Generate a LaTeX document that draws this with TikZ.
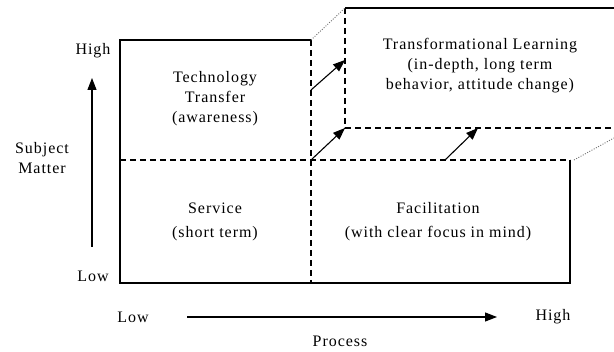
\documentclass[tikz,border=0pt]{standalone}
\usepackage{fontspec}
\setmainfont{Liberation Serif}[LetterSpace=6]
\usetikzlibrary{arrows.meta}

\begin{document}
\begin{tikzpicture}[x=1pt, y=-1pt, font=\fontsize{16}{20}\selectfont,
    solidline/.style={line width=1.3pt},
    dashline/.style={line width=1.1pt, dash pattern=on 6pt off 4pt},
    foldline/.style={line width=0.9pt, dash pattern=on 1pt off 1.5pt, black!55},
    tag/.style={align=center, inner sep=0pt},
    move/.style={-{Triangle[length=12pt, width=9pt]}, line width=1.1pt}]
    \useasboundingbox (0,0) rectangle (614,352);

    % Define the corners
    \coordinate (tl) at (120,40);
    \coordinate (tm) at (311,40);
    \coordinate (ml) at (120,160);
    \coordinate (mm) at (311,160);
    \coordinate (mr) at (570,160);
    \coordinate (bl) at (120,283);
    \coordinate (bm) at (311,283);
    \coordinate (br) at (570,283);
    \coordinate (ut) at (345,8);
    \coordinate (um) at (345,128);
    \coordinate (ue) at (614,8);
    \coordinate (uf) at (614,128);
    \coordinate (rf) at (614,138);
    \coordinate (a1) at (311,90);
    \coordinate (b1) at (345,60);
    \coordinate (a3) at (445,160);
    \coordinate (b3) at (478,128);

    % Draw the boxes
    \draw[solidline] (tm) -- (tl) -- (bl) -- (br) -- (mr);
    \draw[solidline] (ut) -- (ue);
    \draw[dashline] (ml) -- (mr);
    \draw[dashline] (tm) -- (bm);
    \draw[dashline] (ut) -- (um) -- (uf);
    \draw[foldline] (tm) -- (ut);
    \draw[foldline] ([xshift=4pt]mr) -- (rf);

    % Draw the arrows
    \draw[move] (a1) -- (b1);
    \draw[move] (mm) -- (um);
    \draw[move] (a3) -- (b3);

    % Define the nodes
    \node[tag] (tech) at (215,99) {Technology\\Transfer\\(awareness)};
    \node[tag] (trans) at (480,66) {Transformational Learning\\(in-depth, long term\\behavior, attitude change)};
    \node[tag] (serv) at (215,222) {Service\\[4pt](short term)};
    \node[tag] (facil) at (438,222) {Facilitation\\[4pt](with clear focus in mind)};

    % Axes
    \node[tag] (yhigh) at (93,51) {High};
    \node[tag] (ylow) at (93,276) {Low};
    \node[tag] (subj) at (42,158) {Subject\\Matter};
    \node[tag] (xlow) at (133,317) {Low};
    \node[tag] (xhigh) at (553,317) {High};
    \node[tag] (proc) at (340,341) {Process};
    \coordinate (y0) at (92,247);
    \coordinate (y1) at (92,78);
    \coordinate (x0) at (187,317);
    \coordinate (x1) at (497,317);
    \draw[move] (y0) -- (y1);
    \draw[move] (x0) -- (x1);
\end{tikzpicture}
\end{document}
